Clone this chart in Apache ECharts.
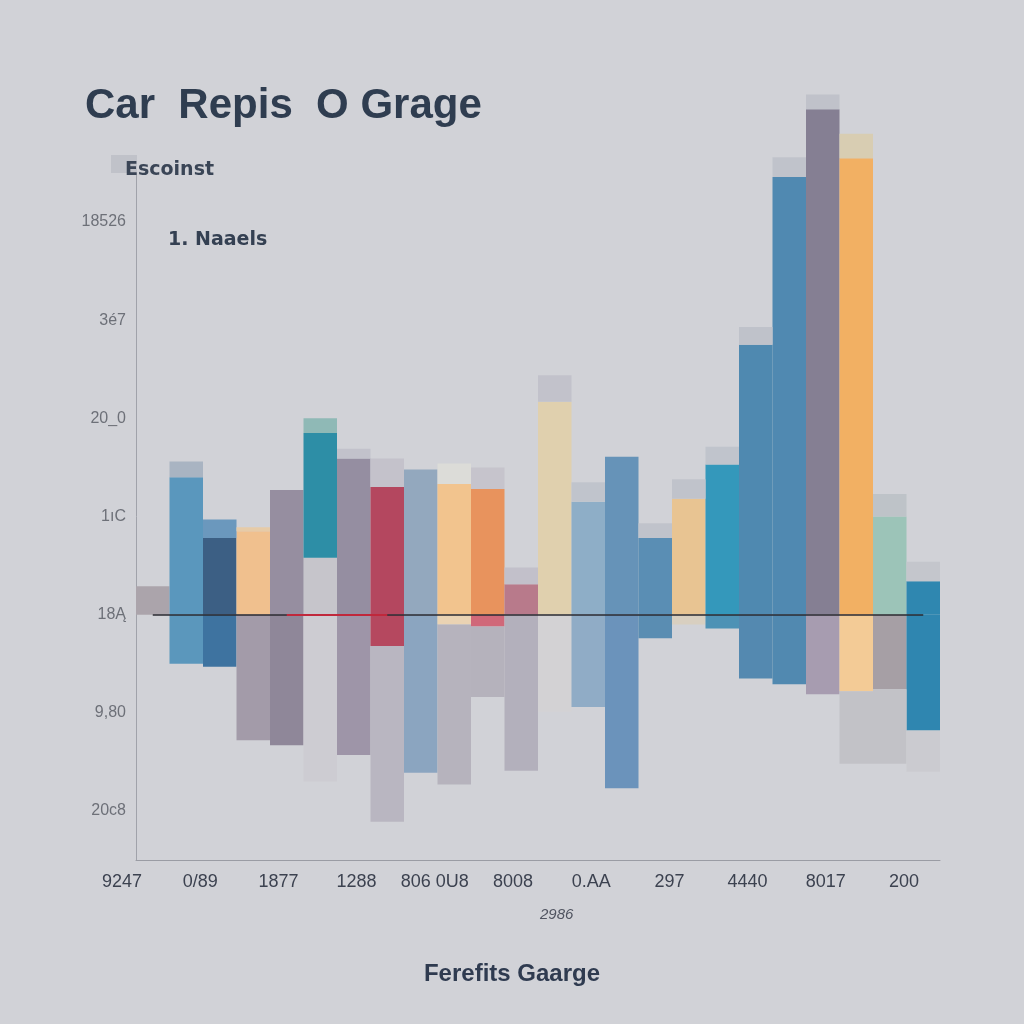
<!DOCTYPE html>
<html><head><meta charset="utf-8">
<script src="https://cdn.jsdelivr.net/npm/echarts@6/dist/echarts.min.js"></script>
<style>html,body{margin:0;padding:0;background:#d1d2d7}#c{width:1024px;height:1024px}</style>
</head><body><div id="c"></div>
<script>
// ---- data ----
const barIds = ['B1','B2','B3','B4','B5','B6','B7','B8','B9','B10','B11','B12','B13','B14','B15','B16','B17','B18','B19','B20','B21','B22','B23','B24'];
const baseVals = [0,0,0,0,0,58,0,0,0,0,0,0,0,0,0,0,0,0,0,0,0,0,0,0];
const mainVals = [29,140,78,85,127,127,159,130,148,133,128,31,217,115,161,78,118,153,275,446,515,465,100,34];
const capVals  = [0,16,19,4,0,15,10,29,0,21,22,17,27,20,0,15,20,18,18,20,15,25,23,20];
const negVals  = [0,-50,-53,-128,-133,-170,-143,-32,-161,-10,-12,-159,-99,-94,-177,-24,-10,-14,-65,-71,-81,-78,-76,-118];
const negExtraVals = [0,0,0,0,0,0,0,-179,0,-163,-72,0,0,0,0,0,0,0,0,0,0,-74,-76,-42];
const xTickLabels = ['9247','0/89','1877','1288','806 0U8','8008','0.AA','297','4440','8017','200'];
const yTickVals = [400,300,200,100,0,-100,-200];
const yTickLabels = ['18526','3é7','20_0','1ıC','18Ą','9,80','20c8'];

// ---- styles ----
const mainColors = ['#aba4ab','#5a97bd','#3c5f84','#f0c08e','#968ea0','#2d8ea6','#958ea1','#b4475f','#93a8be','#f2c48e','#e8935d','#b87a8b','#e0d0ae','#8eaec7','#6693b8','#5a8eb4','#e8c492','#3498bb','#4f89b0','#5089b1','#857f93','#f2b063','#9cc4b8','#2f87b0'];
const capColors = ['#bfc2ca','#a9b4c2','#6b98bd','#e6cba8','#bfc2ca','#8fb9b6','#c2c2cb','#c4c2cb','#bfc2ca','#dcdcd8','#c6c4cc','#c2c0ca','#c2c2cb','#c0c4cc','#bfc2ca','#c0c3cb','#c0c3cb','#c0c4cc','#bfc2ca','#c0c3cb','#c0c2ca','#d8cdb2','#bec3c8','#c4c6cc'];
const negColors = ['#aba4ab','#5b97bc','#3e73a0','#a39ba9','#8f8799','#cdccd2','#9e95a8','#b5485f','#8ba5c0','#ead3b3','#d06879','#b3b0bc','#d3d2d4','#90acc6','#6b93bb','#5a8db2','#d8cfc0','#4d92b5','#5489b0','#5189b0','#a79cb0','#f3cb96','#a69fa5','#2f86b0'];
const negExtraColors = ['#b9b6c1','#b9b6c1','#b9b6c1','#b9b6c1','#b9b6c1','#b9b6c1','#b9b6c1','#b9b6c1','#b9b6c1','#b6b3bd','#b5b2bc','#b9b6c1','#b9b6c1','#b9b6c1','#b9b6c1','#b9b6c1','#b9b6c1','#b9b6c1','#b9b6c1','#b9b6c1','#b9b6c1','#c2c2c7','#c2c2c7','#cbcbd0'];

const chart = echarts.init(document.getElementById('c'));
function bar(name, vals, colors, extra){
  return Object.assign({
    name, type:'bar', stack:'s', data: vals, clip:false, barCategoryGap:'0%',
    xAxisIndex:0, yAxisIndex:0,
    itemStyle:{ color: p => colors[p.dataIndex] }
  }, extra||{});
}
const fontNarrow = '"Liberation Sans Narrow","Liberation Sans",Arial,sans-serif';
const fontHeavy = '"DejaVu Sans",sans-serif';
chart.setOption({
  backgroundColor:'#d1d2d7',
  animation:false,
  title:[
    {text:'Car  Repis  O Grage', left:80, top:80, textStyle:{fontFamily:'"Liberation Sans",Arial,sans-serif', fontWeight:'bold', fontSize:42, color:'#2f3d50'}},
    {text:'Escoinst', left:120, top:156, textStyle:{fontFamily:fontHeavy, fontWeight:'bold', fontSize:19, color:'#3a4556'}},
    {text:'1. Naaels', left:163, top:226, textStyle:{fontFamily:fontHeavy, fontWeight:'bold', fontSize:19, color:'#344052'}},
    {text:'2986', left:535, top:902, textStyle:{fontFamily:fontNarrow, fontStyle:'italic', fontWeight:'normal', fontSize:15, color:'#505460'}},
    {text:'Ferefits Gaarge', left:'center', top:957, textStyle:{fontFamily:fontNarrow, fontWeight:'bold', fontSize:24, color:'#2f3b50'}}
  ],
  graphic:[{type:'rect', shape:{x:111,y:155,width:26,height:18}, style:{fill:'#c0c2c9'}, z:0}],
  grid:[
    {left:136, right:84, top:173, bottom:164},
    {left:122, right:120, top:173, bottom:164}
  ],
  xAxis:[
    {type:'category', gridIndex:0, data:barIds, axisLine:{onZero:false, lineStyle:{color:'#9a9ca4'}}, axisTick:{show:false}, axisLabel:{show:false}},
    {type:'category', gridIndex:1, data:xTickLabels, boundaryGap:false, axisLine:{show:false}, axisTick:{show:false},
     axisLabel:{interval:0, margin:13, fontFamily:fontNarrow, fontSize:18, color:'#3c4250'}}
  ],
  yAxis:[
    {type:'value', gridIndex:0, min:-250, max:450, interval:50,
     axisLine:{show:true, lineStyle:{color:'#a0a2aa'}}, axisTick:{show:false}, splitLine:{show:false},
     axisLabel:{margin:10, fontFamily:fontNarrow, fontSize:16, color:'#6d7078',
       formatter: v => { const i = yTickVals.indexOf(v); return i>=0 ? yTickLabels[i] : ''; }}},
    {type:'value', gridIndex:1, min:-250, max:450, show:false}
  ],
  series:[
    bar('base', baseVals, mainColors.map(()=> '#c6c5cb')),
    bar('main', mainVals, mainColors, {
      markLine:{symbol:'none', silent:true, label:{show:false},
        data:[
          [{coord:['B1',0], lineStyle:{color:'#2a2a30', width:1.5, type:'solid'}}, {coord:['B24',0]}],
          [{coord:['B5',0], lineStyle:{color:'#c0283c', width:1.8, type:'solid'}}, {coord:['B8',0]}]
        ]}
    }),
    bar('cap', capVals, capColors),
    bar('neg', negVals, negColors),
    bar('negExtra', negExtraVals, negExtraColors)
  ]
});
</script></body></html>
